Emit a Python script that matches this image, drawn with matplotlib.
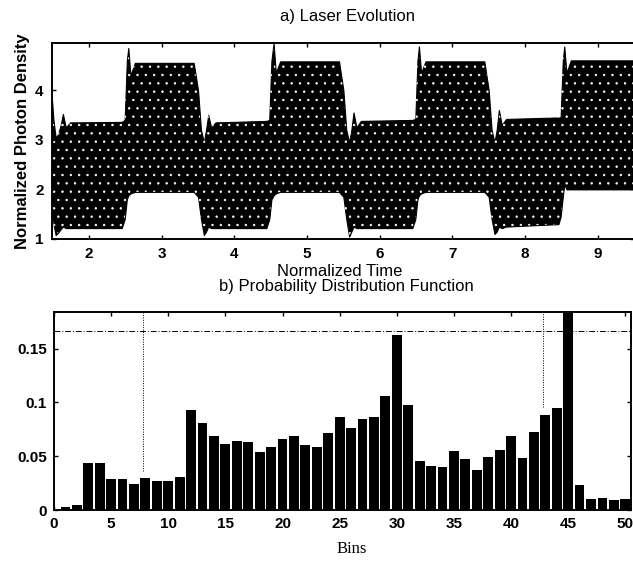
import matplotlib
matplotlib.use("Agg")
import matplotlib.pyplot as plt
import numpy as np

# ---- a) laser evolution: envelope of the fast photon-density oscillation ----
env_time = [1.49, 1.51, 1.54, 1.57, 1.61, 1.64, 1.68, 1.74,
            2.45, 2.49, 2.52, 2.54, 2.57, 2.63,
            3.44, 3.50, 3.54, 3.58, 3.61, 3.64, 3.68, 3.74,
            4.44, 4.48, 4.51, 4.54, 4.57, 4.63,
            5.44, 5.50, 5.54, 5.58, 5.61, 5.64, 5.68, 5.74,
            6.45, 6.49, 6.52, 6.54, 6.57, 6.63,
            7.44, 7.50, 7.54, 7.58, 7.61, 7.64, 7.68, 7.74,
            8.46, 8.49, 8.52, 8.54, 8.57, 8.63, 9.50]
env_upper = [3.80, 3.40, 3.05, 3.10, 3.30, 3.52, 3.25, 3.35,
             3.36, 3.40, 4.60, 4.85, 4.30, 4.55,
             4.55, 4.00, 3.20, 2.95, 3.20, 3.50, 3.25, 3.35,
             3.38, 3.40, 4.60, 4.95, 4.35, 4.58,
             4.58, 4.00, 3.20, 2.95, 3.20, 3.55, 3.25, 3.38,
             3.40, 3.42, 4.60, 4.88, 4.35, 4.58,
             4.58, 4.00, 3.20, 2.95, 3.20, 3.60, 3.30, 3.42,
             3.45, 3.45, 4.60, 4.88, 4.35, 4.60, 4.60]
env_lower = [1.70, 1.30, 1.08, 1.12, 1.20, 1.25, 1.22, 1.22,
             1.22, 1.40, 1.80, 1.88, 1.92, 1.95,
             1.95, 1.85, 1.40, 1.08, 1.15, 1.25, 1.22, 1.22,
             1.22, 1.40, 1.80, 1.88, 1.92, 1.95,
             1.95, 1.85, 1.40, 1.05, 1.15, 1.25, 1.22, 1.22,
             1.22, 1.40, 1.80, 1.88, 1.92, 1.95,
             1.95, 1.85, 1.40, 1.10, 1.15, 1.25, 1.22, 1.25,
             1.30, 1.45, 1.85, 2.10, 2.00, 2.00, 2.00]
time_ticks = [2, 3, 4, 5, 6, 7, 8, 9]
density_ticks = [1, 2, 3, 4]

# ---- b) probability distribution over 50 bins ----
bins = list(range(1, 51))
pdf = [0.003, 0.0045, 0.044, 0.0435, 0.0288, 0.0288, 0.024, 0.0297, 0.0266, 0.027,
       0.031, 0.0925, 0.0805, 0.0685, 0.061, 0.0645, 0.063, 0.0538, 0.0585, 0.0657,
       0.0685, 0.060, 0.059, 0.0716, 0.0866, 0.0766, 0.0844, 0.0866, 0.106, 0.163,
       0.0975, 0.046, 0.0413, 0.0395, 0.0547, 0.0475, 0.0375, 0.0497, 0.0553, 0.0685,
       0.0485, 0.0729, 0.088, 0.095, 0.250, 0.023, 0.010, 0.0115, 0.0094, 0.0106]
pdf_ticks = [0, 0.05, 0.1, 0.15]
pdf_tick_labels = ["0", "0.05", "0.1", "0.15"]
bin_ticks = [0, 5, 10, 15, 20, 25, 30, 35, 40, 45, 50]
threshold = 0.166
marker_bins = [7.8, 42.8]
marker_levels = [0.036, 0.096]

plt.rcParams["font.family"] = ["Liberation Sans", "DejaVu Sans"]
plt.rcParams["hatch.linewidth"] = 0.5

fig = plt.figure(figsize=(6.33, 5.67), dpi=100)
W, H = 633, 567

def axes_px(left, top, right, bottom):
    return fig.add_axes([left / W, 1 - bottom / H, (right - left) / W, (bottom - top) / H])

tick_font = dict(fontsize=11, fontweight="bold")

# top panel
ax1 = axes_px(52, 43, 634, 239)
ax1.fill_between(env_time, env_lower, env_upper, facecolor="black", edgecolor="black", lw=0.8)
ax1.fill_between(env_time, env_lower, env_upper, facecolor="none", edgecolor="white",
                 hatch="..", lw=0)
ax1.set_xlim(1.49, 9.5)
ax1.set_ylim(1.0, 4.95)
ax1.set_xticks(time_ticks)
ax1.set_yticks(density_ticks)
ax1.set_xticklabels([str(t) for t in time_ticks], **tick_font)
ax1.set_yticklabels([str(t) for t in density_ticks], **tick_font)
ax1.tick_params(direction="in", top=True, right=True, length=3, width=1, pad=6)
ax1.set_ylabel("Normalized Photon Density", fontsize=12, fontweight="bold", labelpad=4)
for s in ax1.spines.values():
    s.set_linewidth(1.4)

fig.text(347 / W, 1 - 17 / H, "a) Laser Evolution", ha="center", va="center", fontsize=12)
fig.text(340 / W, 1 - 271 / H, "Normalized Time", ha="center", va="center", fontsize=12)
fig.text(346 / W, 1 - 287 / H, "b) Probability Distribution Function", ha="center",
         va="center", fontsize=12)

# bottom panel
ax2 = axes_px(54, 312, 631, 510)
ax2.bar(bins, pdf, width=0.86, color="black", edgecolor="none")
ax2.axhline(threshold, color="black", lw=0.7, ls=(0, (6, 2, 1, 2)))
for xb, lv in zip(marker_bins, marker_levels):
    ax2.plot([xb, xb], [lv, 0.19], color="black", lw=0.7, ls=(0, (1, 1.5)))
ax2.set_xlim(0, 50.5)
ax2.set_ylim(0, 0.184)
ax2.set_xticks(bin_ticks)
ax2.set_xticklabels([str(b) for b in bin_ticks], **tick_font)
ax2.set_yticks(pdf_ticks)
ax2.set_yticklabels(pdf_tick_labels, **tick_font)
ax2.tick_params(direction="in", top=True, right=True, length=3, width=1, pad=5)
for s in ax2.spines.values():
    s.set_linewidth(1.4)

fig.text(352 / W, 1 - 549 / H, "Bins", ha="center", va="center", fontsize=12,
         family=["Liberation Serif", "DejaVu Serif"])

fig.savefig("out.png", dpi=100)
